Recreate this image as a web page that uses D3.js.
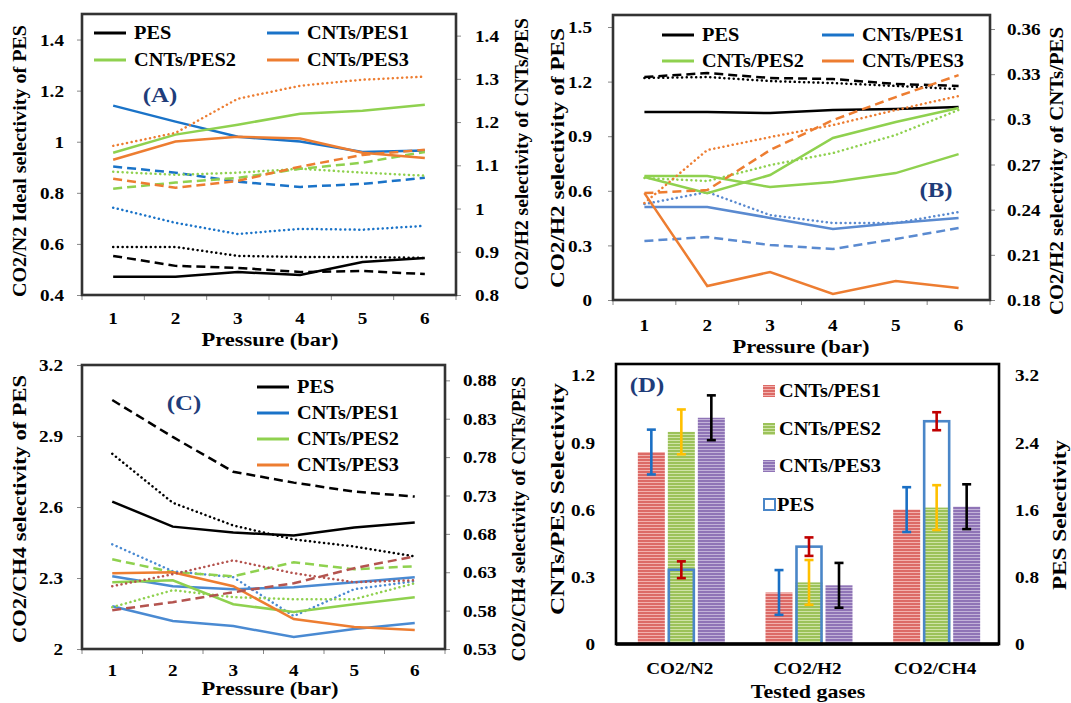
<!DOCTYPE html>
<html><head><meta charset="utf-8">
<script src="https://cdn.jsdelivr.net/npm/d3@7"></script>
<style>
body{margin:0;background:#fff;}
svg text{font-family:'Liberation Serif','DejaVu Serif',serif !important;font-weight:bold;fill:#000;}
</style></head><body>
<svg id="c" width="1071" height="703"></svg>
<script>
// ---------- DATA ----------
const pressure = [1, 2, 3, 4, 5, 6];
const seriesNames = ["PES", "CNTs/PES1", "CNTs/PES2", "CNTs/PES3"];

// Panel A (CO2/N2); PES on left axis, CNTs/PES on right axis
const a_PES_solid = [0.471, 0.471, 0.490, 0.478, 0.529, 0.545];
const a_PES_dash  = [0.553, 0.514, 0.506, 0.490, 0.494, 0.482];
const a_PES_dot   = [0.588, 0.588, 0.553, 0.549, 0.549, 0.545];
const a_P1_solid = [1.238, 1.201, 1.166, 1.155, 1.131, 1.134];
const a_P1_dash  = [1.097, 1.083, 1.062, 1.050, 1.057, 1.071];
const a_P1_dot   = [1.002, 0.967, 0.941, 0.953, 0.951, 0.960];
const a_P2_solid = [1.129, 1.171, 1.194, 1.219, 1.226, 1.240];
const a_P2_dash  = [1.046, 1.060, 1.071, 1.092, 1.106, 1.131];
const a_P2_dot   = [1.085, 1.078, 1.083, 1.092, 1.083, 1.076];
const a_P3_solid = [1.113, 1.155, 1.166, 1.162, 1.129, 1.117];
const a_P3_dash  = [1.069, 1.048, 1.064, 1.097, 1.124, 1.136];
const a_P3_dot   = [1.145, 1.175, 1.254, 1.284, 1.298, 1.305];
const a_leftTicks  = [0.4, 0.6, 0.8, 1, 1.2, 1.4];
const a_rightTicks = [0.8, 0.9, 1, 1.1, 1.2, 1.3, 1.4];

// Panel B (CO2/H2)
const b_PES_solid = [1.033, 1.033, 1.027, 1.044, 1.049, 1.060];
const b_PES_dash  = [1.225, 1.247, 1.220, 1.214, 1.187, 1.176];
const b_PES_dot   = [1.220, 1.225, 1.203, 1.192, 1.176, 1.159];
const b_P1_solid = [0.2418, 0.2418, 0.2345, 0.2271, 0.2311, 0.2345];
const b_P1_dash  = [0.2192, 0.2218, 0.2165, 0.2139, 0.2205, 0.2278];
const b_P1_dot   = [0.2437, 0.2517, 0.2364, 0.2311, 0.2311, 0.2384];
const b_P2_solidA = [0.2617, 0.2510, 0.2630, 0.2876, 0.2982, 0.3075];
const b_P2_solidB = [0.2623, 0.2623, 0.2550, 0.2584, 0.2643, 0.2769];
const b_P2_dot    = [0.2610, 0.2590, 0.2696, 0.2776, 0.2896, 0.3062];
const b_P3_solid = [0.2510, 0.1893, 0.1986, 0.1840, 0.1926, 0.1880];
const b_P3_dash  = [0.2510, 0.2530, 0.2796, 0.2995, 0.3148, 0.3294];
const b_P3_dot   = [0.2444, 0.2796, 0.2882, 0.2962, 0.3062, 0.3155];
const b_leftTicks  = [0, 0.3, 0.6, 0.9, 1.2, 1.5];
const b_rightTicks = [0.18, 0.21, 0.24, 0.27, 0.3, 0.33, 0.36];

// Panel C (CO2/CH4)
const c_PES_solid = [2.623, 2.517, 2.492, 2.480, 2.513, 2.534];
const c_PES_dash  = [3.052, 2.896, 2.749, 2.703, 2.665, 2.644];
const c_PES_dot   = [2.825, 2.618, 2.522, 2.463, 2.433, 2.391];
const c_P1_solidA = [0.6248, 0.6118, 0.6079, 0.6105, 0.6170, 0.6235];
const c_P1_solidB = [0.5858, 0.5664, 0.5599, 0.5456, 0.5560, 0.5638];
const c_P1_dot    = [0.6664, 0.6313, 0.6235, 0.5729, 0.6079, 0.6183];
const c_P2_solid = [0.6170, 0.6196, 0.5884, 0.5781, 0.5884, 0.5975];
const c_P2_dash  = [0.6469, 0.6300, 0.6248, 0.6430, 0.6339, 0.6378];
const c_P2_dot   = [0.5845, 0.6066, 0.5975, 0.5949, 0.5949, 0.6157];
const c_P3_solid = [0.6287, 0.6300, 0.6118, 0.5690, 0.5586, 0.5547];
const c_P3_dash  = [0.5806, 0.5910, 0.6040, 0.6157, 0.6352, 0.6508];
const c_P3_dot   = [0.6118, 0.6274, 0.6456, 0.6287, 0.6170, 0.6196];
const c_leftTicks  = [2, 2.3, 2.6, 2.9, 3.2];
const c_rightTicks = [0.53, 0.58, 0.63, 0.68, 0.73, 0.78, 0.83, 0.88];

// Panel D (bars)
const gases = ["CO2/N2", "CO2/H2", "CO2/CH4"];
const d_P1 = [0.857, 0.230, 0.600];
const d_P2 = [0.947, 0.275, 0.609];
const d_P3 = [1.010, 0.262, 0.613];
const d_P1_err = [0.10, 0.10, 0.10];
const d_P2_err = [0.10, 0.10, 0.10];
const d_P3_err = [0.10, 0.10, 0.10];
const d_PES = [0.884, 1.159, 2.652];
const d_PES_err = [0.10, 0.11, 0.107];
const d_leftTicks  = [0, 0.3, 0.6, 0.9, 1.2];
const d_rightTicks = [0, 0.8, 1.6, 2.4, 3.2];

// ---------- DRAWING ----------
const FONT = "'Liberation Serif','DejaVu Serif',serif";
const SX = 1.13;
const svg = d3.select("#c");
const fmt = d => String(+d.toFixed(2));
const C = {black:"#000", blueA:"#1a73c8", blueB:"#5a8ad0", blueC:"#4a8ad2", green:"#8fd14f", orange:"#ed7d31", brown:"#b4544f", navy:"#1f3d7a"};
const DASH = {solid:null, dash:"9,5", dot:"0.1,4.6"};

function txt(g, x, y, s, o = {}) {
  const sx = o.len ? 1 : (o.sx || SX);
  const t = g.append("text").text(s)
    .attr("font-family", FONT).attr("font-weight", "bold")
    .attr("font-size", o.size || 17)
    .attr("text-anchor", o.anchor || "middle")
    .attr("dominant-baseline", "central")
    .attr("transform", `translate(${x},${y})` + (o.rot ? ` rotate(${o.rot})` : "") + ` scale(${sx},1)`);
  if (o.len) t.attr("textLength", o.len).attr("lengthAdjust", "spacingAndGlyphs");
  if (o.fill) t.style("fill", o.fill);
  return t;
}
function styleAxis(ax, off, anchor, vertical, tickColor) {
  ax.attr("font-family", FONT).attr("font-size", null);
  ax.select(".domain").attr("stroke", tickColor || "#888");
  ax.selectAll(".tick line").attr("stroke", tickColor || "#888");
  ax.selectAll(".tick text").attr("x", null).attr("y", null).attr("dy", null)
    .attr("font-family", FONT).attr("font-weight", "bold")
    .attr("text-anchor", anchor).attr("dominant-baseline", "central")
    .attr("font-size", 17)
    .attr("transform", vertical ? `translate(0,${off}) scale(${SX},1)` : `translate(${off},0) scale(${SX},1)`);
}

function linePanel(p) {
  const g = svg.append("g");
  const x = d3.scaleBand().domain(pressure).range([p.x0, p.x1]);
  const yL = d3.scaleLinear().domain(p.leftDomain).range([p.y1, p.y0]);
  const yR = d3.scaleLinear().domain(p.rightDomain).range([p.y1, p.y0]);

  const gl = g.append("g").attr("transform", `translate(${p.x0},0)`)
    .call(d3.axisLeft(yL).tickValues(p.leftTicks).tickSize(5).tickSizeOuter(0).tickFormat(fmt));
  styleAxis(gl, -p.lOff, "end");
  const gr = g.append("g").attr("transform", `translate(${p.x1},0)`)
    .call(d3.axisRight(yR).tickValues(p.rightTicks).tickSize(5).tickSizeOuter(0).tickFormat(fmt));
  styleAxis(gr, p.rOff, "start");
  const gb = g.append("g").attr("transform", `translate(0,${p.y1})`)
    .call(d3.axisBottom(x).tickSize(0).tickSizeOuter(0));
  styleAxis(gb, p.xLabY - p.y1, "middle", true);
  gb.select(".domain").remove();
  const bounds = pressure.map(d => x(d)).concat([p.x1]);
  g.selectAll(".bt").data(bounds).join("line")
    .attr("x1", d => d).attr("x2", d => d).attr("y1", p.y1).attr("y2", p.y1 + 5).attr("stroke", "#888");

  g.append("rect").attr("x", p.x0).attr("y", p.y0).attr("width", p.x1 - p.x0).attr("height", p.y1 - p.y0)
    .attr("fill", "none").attr("stroke", "#333").attr("stroke-width", 2.6);

  const bw = x.bandwidth() / 2;
  p.series.forEach(s => {
    const ys = s.axis === "L" ? yL : yR;
    g.append("path").datum(s.values)
      .attr("d", d3.line().x((d, i) => x(pressure[i]) + bw).y(d => ys(d)))
      .attr("fill", "none").attr("stroke", s.color).attr("stroke-width", 2.5)
      .attr("stroke-linecap", s.dash === "dot" ? "round" : "butt")
      .attr("stroke-dasharray", DASH[s.dash]);
  });

  p.legend.forEach(l => {
    g.append("line").attr("x1", l.x).attr("x2", l.x + 32).attr("y1", l.y).attr("y2", l.y)
      .attr("stroke", l.color).attr("stroke-width", 3);
    txt(g, l.x + 40, l.y, l.label, {size: 18, anchor: "start"});
  });

  txt(g, p.tag.x, p.tag.y, p.tag.s, {size: 22, fill: C.navy});
  txt(g, p.xTitleX, p.xTitleY, "Pressure (bar)", {size: 18, sx: 1.25});
  txt(g, p.lt.x, p.lt.y, p.lt.s, {size: 18, rot: -90, len: p.lt.len});
  txt(g, p.rt.x, p.rt.y, p.rt.s, {size: 18, rot: -90, len: p.rt.len});
}

// Panel A
linePanel({
  x0: 82, x1: 456, y0: 14, y1: 295, leftDomain: [0.4, 1.5], rightDomain: [0.8, 1.45],
  leftTicks: a_leftTicks, rightTicks: a_rightTicks, lOff: 18, rOff: 19, xLabY: 318, xTitleX: 270, xTitleY: 340,
  series: [
    {values: a_PES_solid, color: C.black, dash: "solid", axis: "L"},
    {values: a_PES_dash, color: C.black, dash: "dash", axis: "L"},
    {values: a_PES_dot, color: C.black, dash: "dot", axis: "L"},
    {values: a_P1_solid, color: C.blueA, dash: "solid", axis: "R"},
    {values: a_P1_dash, color: C.blueA, dash: "dash", axis: "R"},
    {values: a_P1_dot, color: C.blueA, dash: "dot", axis: "R"},
    {values: a_P2_solid, color: C.green, dash: "solid", axis: "R"},
    {values: a_P2_dash, color: C.green, dash: "dash", axis: "R"},
    {values: a_P2_dot, color: C.green, dash: "dot", axis: "R"},
    {values: a_P3_solid, color: C.orange, dash: "solid", axis: "R"},
    {values: a_P3_dash, color: C.orange, dash: "dash", axis: "R"},
    {values: a_P3_dot, color: C.orange, dash: "dot", axis: "R"}
  ],
  legend: [
    {label: seriesNames[0], color: C.black, x: 94, y: 33},
    {label: seriesNames[1], color: C.blueA, x: 267, y: 33},
    {label: seriesNames[2], color: C.green, x: 94, y: 60},
    {label: seriesNames[3], color: C.orange, x: 267, y: 60}
  ],
  tag: {s: "(A)", x: 160, y: 95},
  lt: {s: "CO2/N2 Ideal selectivity of PES", x: 20, y: 161, len: 272},
  rt: {s: "CO2/H2 selectivity of CNTs/PES", x: 522, y: 154, len: 272}
});

// Panel B
linePanel({
  x0: 613, x1: 990, y0: 15, y1: 300, leftDomain: [0, 1.566], rightDomain: [0.18, 0.3693],
  leftTicks: b_leftTicks, rightTicks: b_rightTicks, lOff: 21, rOff: 17, xLabY: 325, xTitleX: 801, xTitleY: 347,
  series: [
    {values: b_PES_solid, color: C.black, dash: "solid", axis: "L"},
    {values: b_PES_dash, color: C.black, dash: "dash", axis: "L"},
    {values: b_PES_dot, color: C.black, dash: "dot", axis: "L"},
    {values: b_P1_solid, color: C.blueB, dash: "solid", axis: "R"},
    {values: b_P1_dash, color: C.blueB, dash: "dash", axis: "R"},
    {values: b_P1_dot, color: C.blueB, dash: "dot", axis: "R"},
    {values: b_P2_solidA, color: C.green, dash: "solid", axis: "R"},
    {values: b_P2_solidB, color: C.green, dash: "solid", axis: "R"},
    {values: b_P2_dot, color: C.green, dash: "dot", axis: "R"},
    {values: b_P3_solid, color: C.orange, dash: "solid", axis: "R"},
    {values: b_P3_dash, color: C.orange, dash: "dash", axis: "R"},
    {values: b_P3_dot, color: C.orange, dash: "dot", axis: "R"}
  ],
  legend: [
    {label: seriesNames[0], color: C.black, x: 662, y: 35},
    {label: seriesNames[1], color: C.blueA, x: 822, y: 35},
    {label: seriesNames[2], color: C.green, x: 662, y: 61},
    {label: seriesNames[3], color: C.orange, x: 822, y: 61}
  ],
  tag: {s: "(B)", x: 936, y: 190},
  lt: {s: "CO2/H2 selectivity of PES", x: 558, y: 158, len: 260},
  rt: {s: "CO2/H2 selectivity of CNTs/PES", x: 1057, y: 171, len: 288}
});

// Panel C
linePanel({
  x0: 82, x1: 445, y0: 365, y1: 649, leftDomain: [2, 3.2], rightDomain: [0.53, 0.9],
  leftTicks: c_leftTicks, rightTicks: c_rightTicks, lOff: 19, rOff: 18, xLabY: 670, xTitleX: 270, xTitleY: 689,
  series: [
    {values: c_PES_solid, color: C.black, dash: "solid", axis: "L"},
    {values: c_PES_dash, color: C.black, dash: "dash", axis: "L"},
    {values: c_PES_dot, color: C.black, dash: "dot", axis: "L"},
    {values: c_P1_solidA, color: C.blueC, dash: "solid", axis: "R"},
    {values: c_P1_solidB, color: C.blueC, dash: "solid", axis: "R"},
    {values: c_P1_dot, color: C.blueC, dash: "dot", axis: "R"},
    {values: c_P2_solid, color: C.green, dash: "solid", axis: "R"},
    {values: c_P2_dash, color: C.green, dash: "dash", axis: "R"},
    {values: c_P2_dot, color: C.green, dash: "dot", axis: "R"},
    {values: c_P3_solid, color: C.orange, dash: "solid", axis: "R"},
    {values: c_P3_dash, color: C.brown, dash: "dash", axis: "R"},
    {values: c_P3_dot, color: C.brown, dash: "dot", axis: "R"}
  ],
  legend: [
    {label: seriesNames[0], color: C.black, x: 257, y: 387},
    {label: seriesNames[1], color: C.blueA, x: 257, y: 413},
    {label: seriesNames[2], color: C.green, x: 257, y: 439},
    {label: seriesNames[3], color: C.orange, x: 257, y: 465}
  ],
  tag: {s: "(C)", x: 184, y: 403},
  lt: {s: "CO2/CH4 selectivity of PES", x: 20, y: 509, len: 268},
  rt: {s: "CO2/CH4 selectivity of CNTs/PES", x: 519, y: 519, len: 285}
});

// Panel D
(function () {
  const g = svg.append("g");
  const x0 = 616, x1 = 999, y0 = 364, y1 = 644;
  const defs = svg.append("defs");
  function pat(id, base, light) {
    const p = defs.append("pattern").attr("id", id).attr("patternUnits", "userSpaceOnUse").attr("width", 6).attr("height", 3);
    p.append("rect").attr("width", 6).attr("height", 3).attr("fill", base);
    p.append("rect").attr("y", 2).attr("width", 6).attr("height", 1).attr("fill", light);
  }
  pat("pR", "#dc6a66", "#f2b0ad");
  pat("pG", "#9cc25a", "#cfe3a6");
  pat("pP", "#8f74b6", "#c2b2d8");

  const gx = d3.scaleBand().domain(gases).range([x0, x1]);
  const inner = d3.scaleBand().domain([0, 1, 2]).range([-42, 45]).paddingInner(0.1);
  const yL = d3.scaleLinear().domain([0, 1.25]).range([y1, y0]);
  const yR = d3.scaleLinear().domain([0, 1.25 * 3.2 / 1.2]).range([y1, y0]);

  const gl = g.append("g").attr("transform", `translate(${x0},0)`)
    .call(d3.axisLeft(yL).tickValues(d_leftTicks).tickSize(0).tickFormat(fmt));
  styleAxis(gl, -21, "end"); gl.select(".domain").remove();
  const gr = g.append("g").attr("transform", `translate(${x1},0)`)
    .call(d3.axisRight(yR).tickValues(d_rightTicks).tickSize(0).tickFormat(fmt));
  styleAxis(gr, 16, "start"); gr.select(".domain").remove();
  const gb = g.append("g").attr("transform", `translate(0,${y1})`)
    .call(d3.axisBottom(gx).tickSize(0));
  styleAxis(gb, 24, "middle", true); gb.select(".domain").remove();

  const bars = [
    {vals: d_P1, err: d_P1_err, fill: "url(#pR)", ec: "#1a6fc4"},
    {vals: d_P2, err: d_P2_err, fill: "url(#pG)", ec: "#ffc000"},
    {vals: d_P3, err: d_P3_err, fill: "url(#pP)", ec: "#000"}
  ];
  const bw = inner.bandwidth();
  bars.forEach((b, k) => {
    g.selectAll(null).data(gases).join("rect")
      .attr("x", d => gx(d) + gx.bandwidth() / 2 + inner(k)).attr("width", bw)
      .attr("y", (d, i) => yL(b.vals[i])).attr("height", (d, i) => y1 - yL(b.vals[i]))
      .attr("fill", b.fill);
  });
  g.selectAll(null).data(gases).join("rect")
    .attr("x", d => gx(d) + gx.bandwidth() / 2 + inner(1) + 1).attr("width", bw - 2)
    .attr("y", (d, i) => yR(d_PES[i])).attr("height", (d, i) => y1 - yR(d_PES[i]))
    .attr("fill", "none").attr("stroke", "#4a86c8").attr("stroke-width", 2.6);

  function errBar(cx, yTop, yBot, color) {
    g.append("line").attr("x1", cx).attr("x2", cx).attr("y1", yTop).attr("y2", yBot).attr("stroke", color).attr("stroke-width", 2.6);
    [yTop, yBot].forEach(yy => g.append("line").attr("x1", cx - 4.5).attr("x2", cx + 4.5).attr("y1", yy).attr("y2", yy).attr("stroke", color).attr("stroke-width", 2.6));
  }
  bars.forEach((b, k) => gases.forEach((d, i) => {
    const cx = gx(d) + gx.bandwidth() / 2 + inner(k) + bw / 2;
    errBar(cx, yL(b.vals[i] + b.err[i]), yL(b.vals[i] - b.err[i]), b.ec);
  }));
  gases.forEach((d, i) => {
    const cx = gx(d) + gx.bandwidth() / 2 + inner(1) + bw / 2;
    errBar(cx, yR(d_PES[i] + d_PES_err[i]), yR(d_PES[i] - d_PES_err[i]), "#c00000");
  });

  g.append("rect").attr("x", x0).attr("y", y0).attr("width", x1 - x0).attr("height", y1 - y0)
    .attr("fill", "none").attr("stroke", "#000").attr("stroke-width", 2.6);
  g.append("line").attr("x1", x0).attr("x2", x1).attr("y1", y1).attr("y2", y1).attr("stroke", "#000").attr("stroke-width", 3.5);

  const leg = [
    {label: seriesNames[1], fill: "url(#pR)", y: 391},
    {label: seriesNames[2], fill: "url(#pG)", y: 429},
    {label: seriesNames[3], fill: "url(#pP)", y: 466}
  ];
  leg.forEach(l => {
    g.append("rect").attr("x", 763).attr("y", l.y - 6).attr("width", 12).attr("height", 12).attr("fill", l.fill);
    txt(g, 779, l.y, l.label, {size: 18, anchor: "start"});
  });
  g.append("rect").attr("x", 764).attr("y", 499).attr("width", 11).attr("height", 11)
    .attr("fill", "none").attr("stroke", "#4a86c8").attr("stroke-width", 2);
  txt(g, 777, 505, seriesNames[0], {size: 18, anchor: "start"});

  txt(g, 647, 385, "(D)", {size: 22, fill: C.navy});
  txt(g, 808, 692, "Tested gases", {size: 18, sx: 1.22});
  txt(g, 558, 499, "CNTs/PES Selectivity", {size: 18, rot: -90, len: 232});
  txt(g, 1060, 515, "PES Selectivity", {size: 18, rot: -90, len: 150});
})();
</script></body></html>
